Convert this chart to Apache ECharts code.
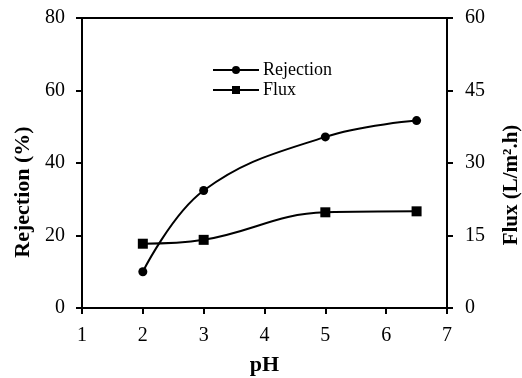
<!DOCTYPE html>
<html>
<head>
<meta charset="utf-8">
<script src="https://cdn.jsdelivr.net/npm/echarts@6/dist/echarts.min.js"></script>
<style>html,body{margin:0;padding:0;background:#fff}#c{width:522px;height:378px}</style>
</head>
<body>
<div id="c"></div>
<script>
var phValues = [2, 3, 5, 6.5];
var rejection = [10.0, 32.4, 47.2, 51.7];
var flux = [13.3, 14.1, 19.8, 20.0];
var seriesNames = ['Rejection', 'Flux'];

var font = 'Liberation Serif, Times New Roman, serif';
var chart = echarts.init(document.getElementById('c'), null, {renderer: 'canvas'});
var axisLine = {show: true, lineStyle: {color: '#000', width: 2}};
var axisTick = {show: true, inside: false, length: 6, lineStyle: {color: '#000', width: 2}};
chart.setOption({
  animation: false,
  backgroundColor: '#fff',
  grid: {left: 82, right: 75, top: 18, bottom: 70, containLabel: false, outerBoundsMode: 'none',
    show: true, borderColor: '#000', borderWidth: 2, backgroundColor: 'transparent'},
  legend: {
    orient: 'vertical', left: 212, top: 61, itemGap: 2, padding: 0,
    itemWidth: 46, itemHeight: 10,
    textStyle: {fontFamily: font, fontSize: 18, color: '#000', padding: [0, 0, 0, -1]},
    data: seriesNames
  },
  xAxis: {
    type: 'value', min: 1, max: 7, interval: 1,
    name: 'pH', nameLocation: 'middle', nameGap: 46,
    nameTextStyle: {fontFamily: font, fontSize: 22, fontWeight: 'bold', color: '#000'},
    axisLine: axisLine, axisTick: axisTick, splitLine: {show: false},
    axisLabel: {fontFamily: font, fontSize: 20, color: '#000', margin: 18}
  },
  yAxis: [{
    type: 'value', min: 0, max: 80, interval: 20, position: 'left',
    name: 'Rejection (%)', nameLocation: 'middle', nameGap: 48, nameRotate: 90,
    nameTextStyle: {fontFamily: font, fontSize: 22, fontWeight: 'bold', color: '#000', padding: [0, 58, 0, 0]},
    axisLine: axisLine, axisTick: axisTick, splitLine: {show: false},
    axisLabel: {fontFamily: font, fontSize: 20, color: '#000', margin: 17}
  }, {
    type: 'value', min: 0, max: 60, interval: 15, position: 'right',
    name: 'Flux (L/m\u00B2.h)', nameLocation: 'middle', nameGap: 54, nameRotate: 90,
    nameTextStyle: {fontFamily: font, fontSize: 21, fontWeight: 'bold', color: '#000', padding: [0, 44, 0, 0]},
    axisLine: axisLine, axisTick: axisTick, splitLine: {show: false},
    axisLabel: {fontFamily: font, fontSize: 20, color: '#000', margin: 18}
  }],
  series: [{
    name: seriesNames[0], type: 'line', yAxisIndex: 0, smooth: 0.4,
    symbol: 'circle', symbolSize: 9,
    itemStyle: {color: '#000'}, lineStyle: {color: '#000', width: 2},
    data: phValues.map(function (p, i) { return [p, rejection[i]]; })
  }, {
    name: seriesNames[1], type: 'line', yAxisIndex: 1, smooth: 0.4,
    symbol: 'rect', symbolSize: 10,
    itemStyle: {color: '#000'}, lineStyle: {color: '#000', width: 2},
    data: phValues.map(function (p, i) { return [p, flux[i]]; })
  }]
});
</script>
</body>
</html>
